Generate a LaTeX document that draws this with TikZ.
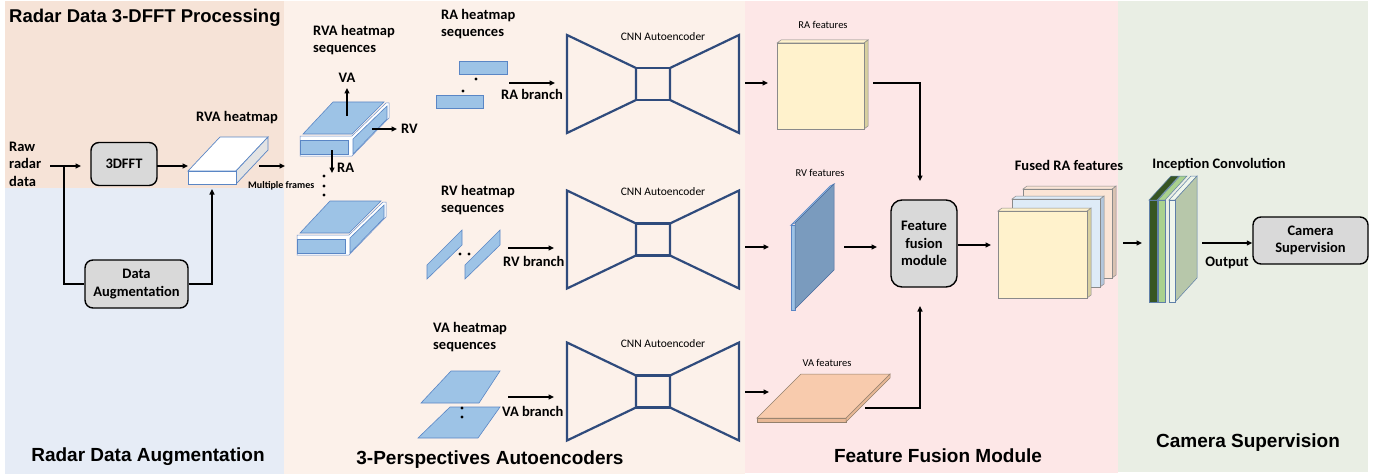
\documentclass[tikz,border=0pt]{standalone}
\usepackage{fontspec}
\setmainfont{Carlito}
\newfontfamily\titlefont{Liberation Sans}
\usetikzlibrary{arrows.meta}
\definecolor{pA}{HTML}{F6E3D7}
\definecolor{pB}{HTML}{E6ECF6}
\definecolor{pC}{HTML}{FCF1EA}
\definecolor{pD}{HTML}{FDE7E7}
\definecolor{pE}{HTML}{E9EEE4}
\definecolor{boxgray}{HTML}{D9D9D9}
\definecolor{navy}{HTML}{2F4B7C}
\definecolor{hmfill}{HTML}{9DC3E6}
\definecolor{hmline}{HTML}{5A86C5}
\definecolor{hmwline}{HTML}{6D8FC8}
\definecolor{yel}{HTML}{FFF2CC}
\definecolor{yelside}{HTML}{D8D0A0}
\definecolor{peach}{HTML}{FBE5D6}
\definecolor{peachside}{HTML}{D9C2B2}
\definecolor{lblue}{HTML}{DEEBF7}
\definecolor{lblueside}{HTML}{B4C7DC}
\definecolor{steel}{HTML}{7A9BBE}
\definecolor{vafill}{HTML}{F8CBAD}
\definecolor{vaside}{HTML}{E8B896}
\definecolor{dgreen}{HTML}{375623}
\definecolor{mgreen}{HTML}{A9D18E}
\definecolor{wgreen}{HTML}{F0F6EC}
\definecolor{ggreen}{HTML}{B7C7AA}
\definecolor{featline}{HTML}{8A8A8A}
\definecolor{incline}{HTML}{5F7FA8}
\newcommand\lblfont{\bfseries\fontsize{14.5}{17.6}\selectfont}
\newcommand\aefont{\fontsize{11.5}{13}\selectfont}
\newcommand\mffont{\bfseries\fontsize{10}{12}\selectfont}
\newcommand\featfont{\fontsize{10.5}{12}\selectfont}
\newcommand\aeshape[1]{%
  \draw[ae] (567,#1-49) -- (636,#1-16) -- (636,#1+16) -- (567,#1+49) -- cycle;
  \draw[ae] (636,#1-16) rectangle (670,#1+16);
  \draw[ae] (739,#1-49) -- (670,#1-16) -- (670,#1+16) -- (739,#1+49) -- cycle;
}
\newcommand\rvastack[2]{%
  \begin{scope}[shift={(#1,#2)}]
    \draw[fill=white, draw=hmwline, line width=0.5pt] (300,136) -- (352,136) -- (386,103) -- (389,103) -- (389,118) -- (352,156) -- (300,156) -- cycle;
    \draw[hm] (300,140) rectangle (348,154);
    \draw[hm] (353,154) -- (353,139) -- (387,106) -- (387,119) -- cycle;
    \draw[hm] (303,134) -- (352,134) -- (384,102) -- (333,102) -- cycle;
  \end{scope}
}
\begin{document}
\begin{tikzpicture}[x=1pt,y=-1pt,
  arr/.style={line width=1.3pt, -{Triangle[length=5.5pt,width=5pt]}},
  conn/.style={line width=1.3pt},
  procbox/.style={draw=black, line width=1.4pt, fill=boxgray, rounded corners=8pt, align=center, font=\lblfont, inner sep=0pt},
  lbl/.style={font=\lblfont, inner sep=0pt},
  aelbl/.style={font=\aefont, inner sep=0pt},
  featlbl/.style={font=\featfont, inner sep=0pt},
  title/.style={font=\titlefont\bfseries\fontsize{19}{22}\selectfont, inner sep=0pt},
  hm/.style={fill=hmfill, draw=hmline, line width=0.6pt},
  ae/.style={draw=navy, line width=2.2pt, line join=miter},
  feat/.style={draw=featline, line width=0.5pt},
  inc/.style={draw=incline, line width=0.5pt},
  dot/.style={fill=black},
]
\useasboundingbox (0,0) rectangle (1388,476);
% panels
\fill[pA] (5,1) rectangle (284,188);
\fill[pB] (5,188) rectangle (284,474);
\fill[pC] (284,1) rectangle (745,474);
\fill[pD] (745,1) rectangle (1118,473);
\fill[pE] (1118,1) rectangle (1368,472);
% titles
\node[title, font=\titlefont\bfseries\fontsize{18.5}{22}\selectfont, anchor=west] (t1) at (9,18) {Radar Data 3-DFFT Processing};
\node[title] (t2) at (148,457) {Radar Data Augmentation};
\node[title] (t3) at (490,460) {3-Perspectives Autoencoders};
\node[title] (t4) at (938,456) {Feature Fusion Module};
\node[title] (t5) at (1248,443) {Camera Supervision};

% ---------- panel 1 ----------
\node[lbl, anchor=west, align=left] (raw) at (9,164) {Raw\\radar\\data};
\node[procbox, minimum width=66pt, minimum height=43pt] (fft) at (124,164) {3DFFT};
\node[procbox, minimum width=103pt, minimum height=48pt] (aug) at (136.5,284) {Data\\Augmentation};
\coordinate (rawout) at (50,166);
\coordinate (split) at (64,166);
\coordinate (fftin) at (81,166);
\coordinate (fftout) at (157,166);
\coordinate (hmin) at (188,166);
\coordinate (hmbot) at (212,189);
\coordinate (hmout) at (259,166);
\coordinate (stackin) at (285,166);
% RVA heatmap slab
\draw[fill=white, draw=hmline, line width=0.7pt] (188,171) -- (220,137) -- (268,137) -- (236,171) -- cycle;
\draw[fill=gray!22, draw=hmline, line width=0.7pt] (236,171) -- (268,137) -- (268,150) -- (236,184) -- cycle;
\draw[fill=white, draw=hmline, line width=0.7pt] (188,171) rectangle (236,184);
\node[lbl] (rvalbl) at (237,118) {RVA heatmap};
\node[font=\mffont, inner sep=0pt, anchor=west] (mf) at (248,186) {Multiple frames};
\draw[arr] (rawout) -- (fftin);
\draw[arr] (fftout) -- (hmin);
\draw[arr] (hmout) -- (stackin);
\draw[conn] (split) |- (aug.west);
\draw[arr] (aug.east) -| (hmbot);

% ---------- panel 2 ----------
\node[lbl, anchor=west, align=left] (rvaseq) at (313,40) {RVA heatmap\\sequences};
\rvastack{0}{0}
\rvastack{-3}{99}
\coordinate (vas) at (347,116); \coordinate (vae) at (347,88);
\coordinate (rvs) at (372,129); \coordinate (rve) at (397,129);
\coordinate (ras) at (332,150); \coordinate (rae) at (332,173);
\draw[arr] (vas) -- (vae);
\draw[arr] (rvs) -- (rve);
\draw[arr] (ras) -- (rae);
\node[lbl] (valbl) at (347,78) {VA};
\node[lbl, anchor=west] (rvlbl) at (401,129) {RV};
\node[lbl, anchor=west] (ralbl) at (337,168) {RA};
\fill[dot] (324,176) circle (1.6) (324,186) circle (1.6) (324,195) circle (1.6);

% RA sequences
\node[lbl, anchor=west, align=left] (raseq) at (441,24) {RA heatmap\\sequences};
\draw[hm] (459,61) rectangle (507,74);
\draw[hm] (436,95) rectangle (483,108);
\fill[dot] (476,79) circle (1.6) (463,91) circle (1.6);
\coordinate (rabs) at (509,83); \coordinate (rabe) at (555,83);
\draw[arr] (rabs) -- (rabe);
\node[lbl, anchor=west] (rab) at (501,94) {RA branch};

% RV sequences
\node[lbl, anchor=west, align=left] (rvseq) at (441,200) {RV heatmap\\sequences};
\draw[hm] (427,265) -- (462,230) -- (462,245) -- (427,279) -- cycle;
\draw[hm] (465,265) -- (500,230) -- (500,245) -- (465,279) -- cycle;
\fill[dot] (460,254) circle (1.6) (469,254) circle (1.6);
\coordinate (rvbs) at (508,248); \coordinate (rvbe) at (554,248);
\draw[arr] (rvbs) -- (rvbe);
\node[lbl, anchor=west] (rvb) at (503,261) {RV branch};

% VA sequences
\node[lbl, anchor=west, align=left] (vaseq) at (433,337) {VA heatmap\\sequences};
\draw[hm] (421,403) -- (479,403) -- (500,371) -- (451,371) -- cycle;
\draw[hm] (418,438) -- (478,438) -- (500,407) -- (450,407) -- cycle;
\fill[dot] (462,408) circle (1.6) (462,417) circle (1.6);
\coordinate (vabs) at (508,397); \coordinate (vabe) at (554,397);
\draw[arr] (vabs) -- (vabe);
\node[lbl, anchor=west] (vab) at (502,411) {VA branch};

% autoencoders
\aeshape{84}
\aeshape{239.5}
\aeshape{391.5}
\node[aelbl] (ae1) at (663,37) {CNN Autoencoder};
\node[aelbl] (ae2) at (663,192) {CNN Autoencoder};
\node[aelbl] (ae3) at (663,344) {CNN Autoencoder};

% ---------- panel 3 ----------
\coordinate (a1s) at (745,83); \coordinate (a1e) at (768,83);
\coordinate (a2s) at (745,247); \coordinate (a2e) at (769,247);
\coordinate (a3s) at (745,392); \coordinate (a3e) at (769,392);
\draw[arr] (a1s) -- (a1e);
\draw[arr] (a2s) -- (a2e);
\draw[arr] (a3s) -- (a3e);
% RA features
\draw[feat, fill=yel] (777,43) -- (781,40) -- (868,40) -- (864,43) -- cycle;
\draw[feat, fill=yelside] (864,43) -- (868,40) -- (868,126) -- (864,129) -- cycle;
\draw[feat, fill=yel] (777,43) rectangle (864,129);
\node[featlbl] (rafl) at (823,25) {RA features};
% RV features
\draw[feat, draw=hmline, fill=hmfill] (791,225) -- (830,186) -- (834,184) -- (795,223) -- cycle;
\draw[feat, draw=hmline, fill=hmfill] (791,225) rectangle (795,310);
\draw[feat, draw=hmline!80!black, fill=steel] (795,223) -- (834,184) -- (834,270) -- (795,309) -- cycle;
\node[featlbl] (rvfl) at (820,173) {RV features};
% VA features
\draw[feat, draw=gray!70!brown, fill=vaside] (757,418) -- (846,418) -- (846,422) -- (757,422) -- cycle;
\draw[feat, draw=gray!70!brown, fill=vaside] (846,418) -- (890,374) -- (890,378) -- (846,422) -- cycle;
\draw[feat, draw=gray!70!brown, fill=vafill] (757,418) -- (846,418) -- (890,374) -- (801,374) -- cycle;
\node[featlbl] (vafl) at (827,363) {VA features};
% fusion
\node[procbox, minimum width=66pt, minimum height=87pt, rounded corners=11pt] (fuse) at (924,243.5) {Feature\\fusion\\module};
\coordinate (raout) at (873,83); \coordinate (fusetop) at (920,181);
\coordinate (rvout) at (844,247); \coordinate (fusel) at (877,247);
\coordinate (vaout) at (865,408); \coordinate (fusebot) at (920,306);
\coordinate (fusedin) at (991,245);
\draw[arr] (raout) -| (fusetop);
\draw[arr] (rvout) -- (fusel);
\draw[arr] (vaout) -| (fusebot);
\draw[arr] (fuse.east |- fusedin) -- (fusedin);
% fused features
\draw[feat, fill=peachside] (1112,189) -- (1116,186) -- (1116,275) -- (1112,278) -- cycle;
\draw[feat, fill=peach] (1023,189) -- (1027,186) -- (1116,186) -- (1112,189) -- cycle;
\draw[feat, fill=peach] (1023,189) rectangle (1112,278);
\draw[feat, fill=lblueside] (1100,199) -- (1104,196) -- (1104,284) -- (1100,287) -- cycle;
\draw[feat, fill=lblue] (1012,199) -- (1016,196) -- (1104,196) -- (1100,199) -- cycle;
\draw[feat, fill=lblue] (1012,199) rectangle (1100,287);
\draw[feat, fill=yelside] (1087,211) -- (1091,208) -- (1091,295) -- (1087,298) -- cycle;
\draw[feat, fill=yel] (998,211) -- (1002,208) -- (1091,208) -- (1087,211) -- cycle;
\draw[feat, fill=yel] (998,211) rectangle (1087,298);
\node[lbl] (fusedl) at (1069,165) {Fused RA features};

% ---------- panel 4 ----------
\coordinate (incin0) at (1123,243); \coordinate (incin) at (1142,243);
\draw[arr] (incin0) -- (incin);
\draw[inc, fill=dgreen] (1149,200) -- (1171,176) -- (1179,176) -- (1157,200) -- cycle;
\draw[inc, fill=dgreen] (1149,200) rectangle (1157,302);
\draw[inc, fill=mgreen] (1158,200) -- (1180,176) -- (1187,176) -- (1165,200) -- cycle;
\draw[inc, fill=mgreen] (1158,200) rectangle (1165,302);
\draw[inc, fill=wgreen] (1169,200) -- (1191,176) -- (1197,176) -- (1175,200) -- cycle;
\draw[inc, fill=ggreen] (1175,200) -- (1197,176) -- (1197,278) -- (1175,302) -- cycle;
\draw[inc, fill=wgreen] (1169,200) rectangle (1175,302);
\node[lbl] (incl) at (1219,165) {Inception Convolution};
\node[procbox, minimum width=115pt, minimum height=47pt] (cam) at (1310.5,240.5) {Camera\\Supervision};
\coordinate (outs) at (1202,243);
\draw[arr] (outs) -- (cam.west |- outs) ;
\node[lbl] (outl) at (1227,263) {Output};
\end{tikzpicture}
\end{document}
